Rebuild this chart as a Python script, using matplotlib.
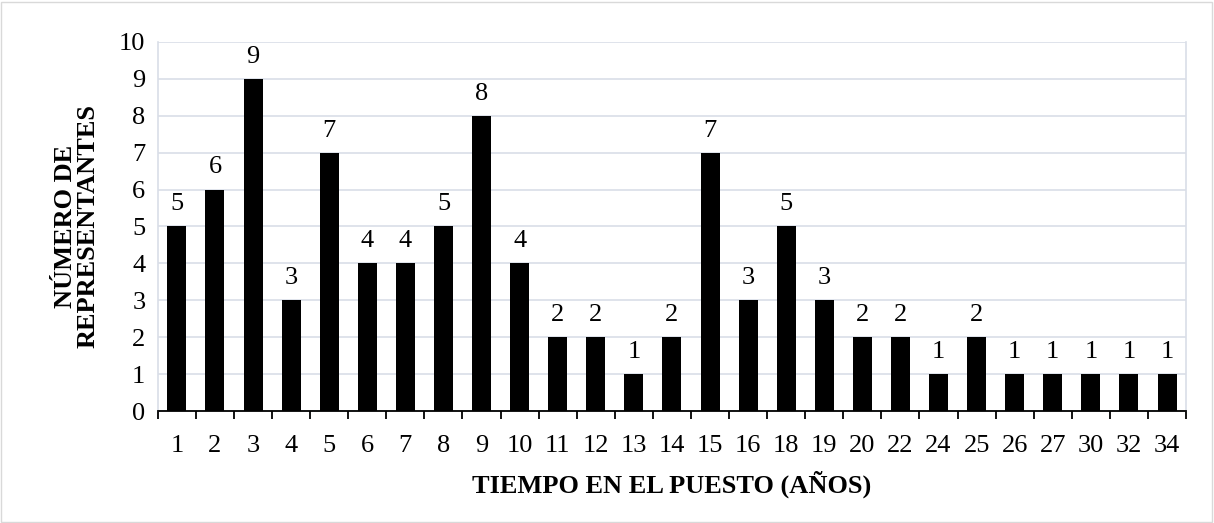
import matplotlib
matplotlib.use("Agg")
import matplotlib.pyplot as plt
from matplotlib.patches import Rectangle
import numpy as np

categories = ["1","2","3","4","5","6","7","8","9","10","11","12","13","14","15","16","18","19","20","22","24","25","26","27","30","32","34"]
values = [5,6,9,3,7,4,4,5,8,4,2,2,1,2,7,3,5,3,2,2,1,2,1,1,1,1,1]
yticks = list(range(0, 11))

plt.rcParams['font.family'] = ['Liberation Serif', 'DejaVu Serif']

fig = plt.figure(figsize=(12.14, 5.23), dpi=100)
ax = fig.add_axes([0.130, 0.214, 0.847, 0.706])

FS = 19
x = np.arange(len(categories))
ax.bar(x, values, width=0.5, color='black', zorder=3)
for xi, v in zip(x, values):
    ax.text(xi, v + 0.3, str(v), ha='center', va='bottom', fontsize=FS, zorder=4)

ax.set_xlim(-0.5, len(categories) - 0.5)
ax.set_ylim(0, 10)
ax.set_yticks(yticks)
ax.yaxis.grid(True, color='#d9dee7', linewidth=1.2, zorder=0)
ax.set_axisbelow(True)
ax.tick_params(axis='y', length=0, labelsize=FS, pad=9)
ax.set_xticks(x)
ax.set_xticklabels(categories)
ax.tick_params(axis='x', which='major', length=0, labelsize=FS, pad=17)
ax.set_xticks(np.arange(-0.5, len(categories), 1.0), minor=True)
ax.tick_params(axis='x', which='minor', length=6, width=1.3, color='black', direction='out')

for s in ['left', 'right']:
    ax.spines[s].set_color('#d9dee7')
    ax.spines[s].set_linewidth(1.2)
ax.spines['top'].set_visible(False)
ax.spines['bottom'].set_color('black')
ax.spines['bottom'].set_linewidth(1.3)

ax.set_xlabel("TIEMPO EN EL PUESTO (AÑOS)", fontsize=FS, fontweight='bold', labelpad=10)
ax.set_ylabel("NÚMERO DE\nREPRESENTANTES", fontsize=FS, fontweight='bold', labelpad=14, linespacing=1.0)

fig.patches.append(Rectangle((0.001, 0.002), 0.997, 0.995, transform=fig.transFigure,
                             fill=False, edgecolor='#d9d9d9', linewidth=1))

fig.savefig("out.png", dpi=100)
